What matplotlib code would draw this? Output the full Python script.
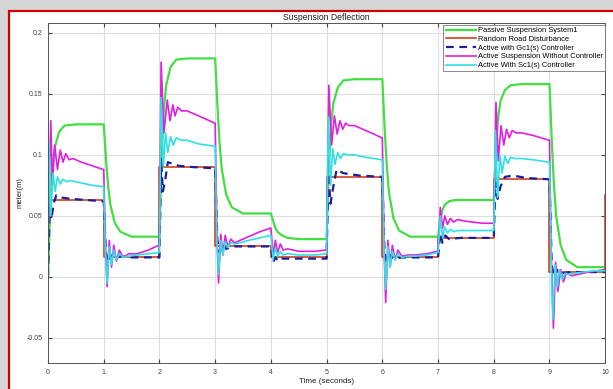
import matplotlib.pyplot as plt
from matplotlib.patches import Rectangle

plt.rcParams['font.family'] = ['Liberation Sans', 'DejaVu Sans']

#### values ####
road_t = [0, 1, 2, 3, 4, 5, 6, 7, 8, 9, 9.99, 10]
road = [0.063, 0.016, 0.090, 0.025, 0.016, 0.082, 0.016, 0.032, 0.080, 0.004, 0.067, 0.067]

passive_t = [0, 0.04, 0.08, 0.12, 0.2, 0.3, 0.5,
             1, 1.04, 1.08, 1.12, 1.2, 1.3, 1.5,
             2, 2.04, 2.08, 2.12, 2.2, 2.3, 2.5,
             3, 3.04, 3.08, 3.12, 3.2, 3.3, 3.5,
             4, 4.04, 4.08, 4.12, 4.2, 4.3, 4.5,
             5, 5.04, 5.08, 5.12, 5.2, 5.3, 5.5,
             6, 6.04, 6.08, 6.12, 6.2, 6.3, 6.5,
             7, 7.04, 7.08, 7.12, 7.2, 7.3, 7.5,
             8, 8.04, 8.08, 8.12, 8.2, 8.3, 8.5,
             9, 9.04, 9.08, 9.12, 9.2, 9.3, 9.5, 10]
passive = [0.0, 0.056, 0.090, 0.106, 0.119, 0.124, 0.125,
           0.125, 0.097, 0.074, 0.059, 0.044, 0.037, 0.033,
           0.033, 0.099, 0.138, 0.157, 0.172, 0.178, 0.179,
           0.179, 0.141, 0.109, 0.088, 0.067, 0.057, 0.052,
           0.052, 0.046, 0.040, 0.037, 0.034, 0.032, 0.031,
           0.031, 0.090, 0.125, 0.142, 0.155, 0.161, 0.162,
           0.162, 0.123, 0.091, 0.069, 0.048, 0.038, 0.033,
           0.033, 0.047, 0.055, 0.059, 0.062, 0.063, 0.063,
           0.063, 0.106, 0.131, 0.144, 0.153, 0.157, 0.158,
           0.158, 0.113, 0.075, 0.050, 0.026, 0.014, 0.008, 0.008]

gc1_t = [0, 0.03, 0.06, 0.1, 0.15, 0.25, 0.4, 0.7, 0.99,
         1.0, 1.04, 1.08, 1.12, 1.2, 1.3, 1.5, 1.99,
         2.0, 2.03, 2.06, 2.1, 2.15, 2.22, 2.35, 2.6, 2.99,
         3.0, 3.04, 3.08, 3.13, 3.2, 3.35, 3.6, 3.99,
         4.0, 4.04, 4.08, 4.13, 4.2, 4.4, 4.99,
         5.0, 5.03, 5.07, 5.12, 5.18, 5.3, 5.6, 5.99,
         6.0, 6.04, 6.08, 6.13, 6.2, 6.35, 6.6, 6.99,
         7.0, 7.04, 7.08, 7.13, 7.2, 7.4, 7.99,
         8.0, 8.03, 8.07, 8.12, 8.2, 8.35, 8.6, 8.99,
         9.0, 9.04, 9.08, 9.13, 9.2, 9.4, 9.7, 10.0]
gc1 = [0.0, 0.06, 0.047, 0.06, 0.067, 0.065, 0.064, 0.063, 0.062,
       0.062, 0.02, 0.012, 0.018, 0.015, 0.017, 0.016, 0.016,
       0.016, 0.097, 0.07, 0.078, 0.094, 0.093, 0.091, 0.09, 0.089,
       0.089, 0.03, 0.02, 0.027, 0.023, 0.025, 0.025, 0.025,
       0.025, 0.012, 0.016, 0.013, 0.015, 0.015, 0.015,
       0.015, 0.085, 0.06, 0.074, 0.088, 0.085, 0.083, 0.082,
       0.082, 0.02, 0.012, 0.018, 0.015, 0.016, 0.016, 0.016,
       0.016, 0.036, 0.028, 0.034, 0.031, 0.032, 0.032,
       0.032, 0.078, 0.064, 0.074, 0.082, 0.083, 0.081, 0.08,
       0.08, 0.01, 0.0, 0.006, 0.003, 0.004, 0.004, 0.004]

nocon_t = [0, 0.05, 0.08, 0.12, 0.17, 0.22, 0.27, 0.32, 0.38, 0.45, 0.6, 0.8, 0.99,
           1.0, 1.03, 1.06, 1.1, 1.14, 1.18, 1.23, 1.28, 1.35, 1.45, 1.6, 1.8, 1.99,
           2.0, 2.03, 2.08, 2.14, 2.19, 2.24, 2.28, 2.33, 2.4, 2.5, 2.7, 2.85, 2.99,
           3.0, 3.03, 3.06, 3.1, 3.14, 3.18, 3.23, 3.28, 3.35, 3.45, 3.6, 3.8, 3.99,
           4.0, 4.04, 4.08, 4.12, 4.17, 4.22, 4.3, 4.5, 4.8, 4.99,
           5.0, 5.04, 5.09, 5.14, 5.19, 5.24, 5.29, 5.34, 5.4, 5.5, 5.7, 5.85, 5.99,
           6.0, 6.03, 6.06, 6.1, 6.14, 6.18, 6.23, 6.28, 6.35, 6.45, 6.6, 6.8, 6.99,
           7.0, 7.04, 7.08, 7.12, 7.17, 7.22, 7.28, 7.35, 7.45, 7.6, 7.8, 7.99,
           8.0, 8.04, 8.08, 8.13, 8.18, 8.23, 8.28, 8.33, 8.4, 8.5, 8.7, 8.85, 8.99,
           9.0, 9.03, 9.07, 9.11, 9.15, 9.2, 9.25, 9.3, 9.4, 9.5, 9.7, 9.85, 9.99]
nocon = [0.03, 0.128, 0.075, 0.108, 0.088, 0.104, 0.094, 0.101, 0.096, 0.097, 0.094, 0.091, 0.088,
         0.088, 0.03, -0.008, 0.03, 0.008, 0.026, 0.013, 0.022, 0.016, 0.019, 0.019, 0.022, 0.026,
         0.026, 0.176, 0.118, 0.145, 0.128, 0.141, 0.132, 0.139, 0.136, 0.136, 0.132, 0.129, 0.126,
         0.126, 0.04, -0.005, 0.035, 0.018, 0.034, 0.024, 0.031, 0.028, 0.03, 0.033, 0.037, 0.040,
         0.040, 0.018, 0.03, 0.02, 0.027, 0.022, 0.023, 0.021, 0.021, 0.022,
         0.022, 0.157, 0.108, 0.132, 0.117, 0.128, 0.121, 0.126, 0.124, 0.124, 0.12, 0.117, 0.114,
         0.114, 0.03, -0.021, 0.03, 0.008, 0.026, 0.014, 0.022, 0.017, 0.018, 0.018, 0.019, 0.021,
         0.021, 0.057, 0.040, 0.050, 0.043, 0.048, 0.045, 0.047, 0.046, 0.045, 0.044, 0.044,
         0.044, 0.143, 0.095, 0.124, 0.108, 0.121, 0.114, 0.12, 0.118, 0.118, 0.116, 0.114, 0.112,
         0.112, 0.02, -0.042, 0.012, -0.012, 0.006, -0.004, 0.003, 0.001, 0.002, 0.004, 0.005, 0.006]

sc1_t = [0, 0.02, 0.05, 0.09, 0.13, 0.17, 0.22, 0.27, 0.33, 0.4, 0.6, 0.8, 0.99,
         1.0, 1.03, 1.06, 1.1, 1.14, 1.18, 1.23, 1.28, 1.35, 1.45, 1.6, 1.8, 1.99,
         2.0, 2.03, 2.07, 2.11, 2.15, 2.2, 2.25, 2.3, 2.38, 2.5, 2.7, 2.85, 2.99,
         3.0, 3.03, 3.06, 3.1, 3.14, 3.18, 3.23, 3.28, 3.35, 3.45, 3.6, 3.8, 3.99,
         4.0, 4.04, 4.08, 4.12, 4.17, 4.22, 4.3, 4.5, 4.8, 4.99,
         5.0, 5.03, 5.07, 5.11, 5.15, 5.2, 5.25, 5.3, 5.38, 5.5, 5.7, 5.85, 5.99,
         6.0, 6.03, 6.06, 6.1, 6.14, 6.18, 6.23, 6.28, 6.35, 6.45, 6.6, 6.8, 6.99,
         7.0, 7.04, 7.08, 7.12, 7.17, 7.22, 7.28, 7.35, 7.45, 7.6, 7.8, 7.99,
         8.0, 8.03, 8.07, 8.11, 8.15, 8.2, 8.25, 8.3, 8.38, 8.5, 8.7, 8.85, 8.99,
         9.0, 9.03, 9.06, 9.1, 9.14, 9.18, 9.23, 9.28, 9.35, 9.45, 9.6, 9.8, 9.99]
sc1 = [0.0, 0.11, 0.05, 0.085, 0.07, 0.082, 0.076, 0.08, 0.078, 0.079, 0.077, 0.075, 0.074,
       0.074, 0.02, -0.005, 0.025, 0.01, 0.022, 0.014, 0.019, 0.016, 0.017, 0.018, 0.019, 0.02,
       0.02, 0.147, 0.09, 0.118, 0.102, 0.115, 0.108, 0.114, 0.112, 0.112, 0.109, 0.108, 0.107,
       0.107, 0.03, 0.002, 0.03, 0.018, 0.029, 0.024, 0.028, 0.027, 0.028, 0.03, 0.032, 0.034,
       0.034, 0.014, 0.024, 0.017, 0.021, 0.018, 0.019, 0.018, 0.018, 0.019,
       0.019, 0.131, 0.075, 0.105, 0.092, 0.102, 0.097, 0.101, 0.1, 0.1, 0.098, 0.097, 0.096,
       0.096, 0.02, -0.01, 0.025, 0.008, 0.021, 0.014, 0.019, 0.016, 0.017, 0.017, 0.018, 0.02,
       0.02, 0.05, 0.032, 0.041, 0.036, 0.039, 0.037, 0.038, 0.038, 0.038, 0.038, 0.038,
       0.038, 0.12, 0.065, 0.1, 0.085, 0.099, 0.093, 0.098, 0.097, 0.097, 0.096, 0.095, 0.094,
       0.094, 0.01, -0.035, 0.01, -0.008, 0.006, -0.002, 0.003, 0.002, 0.003, 0.004, 0.005, 0.005]

yticks = [-0.05, 0, 0.05, 0.1, 0.15, 0.2]
ytick_labels = ['-0.05', '0', '0.05', '0.1', '0.15', '0.2']

######################### plot ####################
fig = plt.figure(figsize=(6.13, 3.89), dpi=100, facecolor='#d6d6d6')
# red framed window (behind the axes)
fig.patches.append(Rectangle((0.0147, -0.02), 1.0, 0.992, transform=fig.transFigure,
                             facecolor='white', edgecolor='#d00000', linewidth=1.6, zorder=-10))

ax = fig.add_axes([0.0783, 0.0668, 0.909, 0.874])
ax.set_zorder(5)
ax.plot(passive_t, passive, color='#44dd44', lw=1.6, label='Passive Suspension System1')
ax.step(road_t, road, where='post', color='#d4401e', lw=1.2, label='Random Road Disturbance')
ax.plot(gc1_t, gc1, color='#1c1c9c', lw=1.6, ls=(0, (3.5, 2.5)), label='Active with Gc1(s) Controller')
ax.plot(nocon_t, nocon, color='#e020e0', lw=1.2, label='Active Suspension Without Controller')
ax.plot(sc1_t, sc1, color='#30e0e6', lw=1.2, label='Active With Sc1(s) Controller')

ax.set_xlim(0, 10)
ax.set_ylim(-0.0705, 0.208)
ax.set_xticks(range(11))
ax.set_yticks(yticks)
ax.set_yticklabels(ytick_labels)
ax.tick_params(direction='in', length=3, labelsize=5, colors='#444444', top=True, right=True, pad=4)
ax.grid(True, color='#dddddd', lw=0.8)
for s in ax.spines.values():
    s.set_color('#555555')
    s.set_linewidth(0.7)

ax.set_title('Suspension Deflection', fontsize=6.2, color='#222222', pad=2)
ax.set_xlabel('Time (seconds)', fontsize=5.8, color='#222222', labelpad=2)
ax.set_ylabel('meter(m)', fontsize=5.5, color='#222222', labelpad=2)

leg = ax.legend(loc='upper right', bbox_to_anchor=(1.0, 0.995), borderaxespad=0,
                fontsize=5.4, fancybox=False, framealpha=1, edgecolor='#777777',
                handlelength=4.0, labelspacing=0.2, borderpad=0.3, handletextpad=0.3)
leg.get_frame().set_linewidth(0.6)

plt.savefig('out.png', dpi=100, facecolor=fig.get_facecolor())
